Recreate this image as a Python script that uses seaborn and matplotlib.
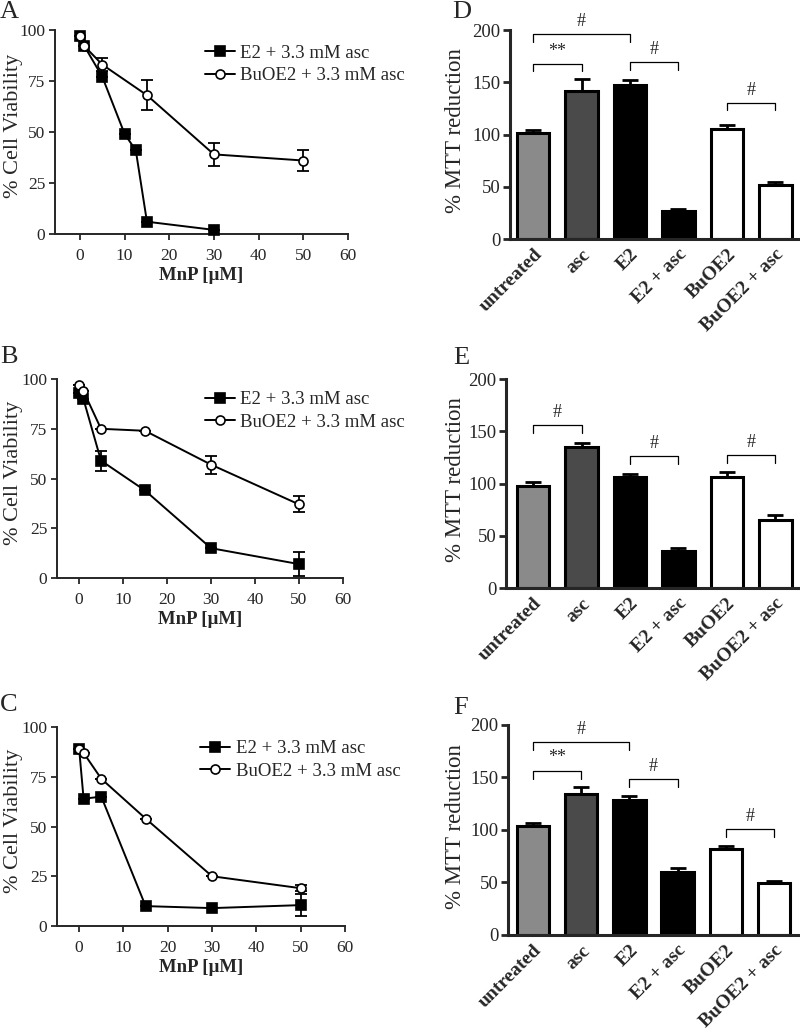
import numpy as np
import pandas as pd
import matplotlib
matplotlib.use('Agg')
import matplotlib.pyplot as plt
import seaborn as sns

sns.set_style('ticks')
plt.rcParams['font.family'] = ['Liberation Serif', 'DejaVu Serif']

# ---------------- Data: cell viability (panels A-C) ----------------
conc_A_e2 = [0, 1, 5, 10, 12.5, 15, 30]
via_A_e2 = [97, 92, 77, 49, 41, 6, 2]
err_A_e2 = [0, 0, 0, 0, 0, 0, 0]
conc_A_bu = [0, 1, 5, 15, 30, 50]
via_A_bu = [97, 92, 83, 68, 39, 36]
err_A_bu = [0, 0, 3, 7.4, 5.7, 5]

conc_B_e2 = [0, 1, 5, 15, 30, 50]
via_B_e2 = [93, 90, 59, 44, 15, 7]
err_B_e2 = [0, 0, 5, 0, 0, 6]
conc_B_bu = [0, 1, 5, 15, 30, 50]
via_B_bu = [97, 94, 75, 74, 57, 37]
err_B_bu = [0, 0, 0, 0, 4.5, 4]

conc_C_e2 = [0, 1, 5, 15, 30, 50]
via_C_e2 = [89, 64, 65, 10, 9, 10.5]
err_C_e2 = [0, 0, 0, 0, 0, 5.5]
conc_C_bu = [0, 1, 5, 15, 30, 50]
via_C_bu = [89, 87, 74, 54, 25, 19]
err_C_bu = [0, 0, 0, 0, 0, 1.5]

label_e2 = 'E2 + 3.3 mM asc'
label_bu = 'BuOE2 + 3.3 mM asc'

# ---------------- Data: MTT reduction (panels D-F) ----------------
groups = ['untreated', 'asc', 'E2', 'E2 + asc', 'BuOE2', 'BuOE2 + asc']
bar_colors = ['#8a8a8a', '#4a4a4a', '#000000', '#000000', '#ffffff', '#ffffff']
mtt_D = [101, 141.5, 147.5, 27, 105, 51.3]
err_D = [3.5, 11.5, 5, 2, 4.5, 3]
mtt_E = [98, 135, 106.5, 35.4, 106, 64.8]
err_E = [3, 4, 3, 3, 5, 5.5]
mtt_F = [104, 134.3, 128.3, 59.7, 82.2, 49.5]
err_F = [3, 7, 4, 4.5, 3, 2]

# significance brackets: (group i, group j, height, label)
sig_D = [(0, 2, 196, '#'), (0, 1, 167.5, '**'), (2, 3, 169, '#'), (4, 5, 130, '#')]
sig_E = [(0, 1, 156, '#'), (2, 3, 126, '#'), (4, 5, 127.5, '#')]
sig_F = [(0, 2, 184, '#'), (0, 1, 156.5, '**'), (2, 3, 148.6, '#'), (4, 5, 100.6, '#')]

W, H = 800, 1032
fig = plt.figure(figsize=(8, 10.32), dpi=100)


def line_panel(rect, xlim, e2, bu, letter, letter_xy, legend_xy):
    ax = fig.add_axes(rect)
    for (x, y, e), mk, face, lab, ms in [
        (e2, 's', 'black', label_e2, 7.5),
        (bu, 'o', 'white', label_bu, 6.5),
    ]:
        ax.errorbar(x, y, yerr=e, fmt='none', ecolor='black', elinewidth=1.3,
                    capsize=4, capthick=1.3, zorder=2, clip_on=False)
        df = pd.DataFrame({'x': x, 'y': y})
        sns.lineplot(data=df, x='x', y='y', ax=ax, color='black', lw=1.4,
                     marker=mk, markersize=ms, markerfacecolor=face,
                     markeredgecolor='black', markeredgewidth=1.2,
                     label=lab, errorbar=None, clip_on=False, zorder=3)
    ax.set_xlim(*xlim)
    ax.set_ylim(0, 100)
    ax.set_xticks([0, 10, 20, 30, 40, 50, 60])
    ax.set_yticks([0, 25, 50, 75, 100])
    ax.set_xlabel('MnP [µM]', fontsize=13.5, fontweight='bold', labelpad=2)
    ax.set_ylabel('% Cell Viability', fontsize=16)
    # right edge of the rotated label ~23 px from the figure's left edge
    ax.yaxis.set_label_coords((23 / W - rect[0]) / rect[2], 0.53)
    ax.tick_params(labelsize=12.5, width=1.3, length=4, direction='out', pad=3)
    ax.tick_params(axis='x', pad=6)
    for s in ['top', 'right']:
        ax.spines[s].set_visible(False)
    for s in ['left', 'bottom']:
        ax.spines[s].set_linewidth(1.4)
    ax.legend(loc='upper left', bbox_to_anchor=legend_xy,
              bbox_transform=fig.transFigure, frameon=False,
              fontsize=13.5, handlelength=1.6, handletextpad=0.3,
              labelspacing=0.3, borderaxespad=0, borderpad=0)
    fig.text(letter_xy[0], letter_xy[1], letter, fontsize=19, ha='left', va='center')
    return ax


def bar_panel(rect, xlim, vals, errs, sigs, letter, letter_xy, drop):
    ax = fig.add_axes(rect)
    df = pd.DataFrame({'group': groups, 'val': vals})
    sns.barplot(data=df, x='group', y='val', hue='group',
                palette=dict(zip(groups, bar_colors)), legend=False,
                edgecolor='black', linewidth=2.2, width=0.67,
                errorbar=None, ax=ax, zorder=2)
    xpos = np.arange(len(groups))
    ax.errorbar(xpos, vals, yerr=[np.zeros(len(errs)), errs], fmt='none',
                ecolor='black', elinewidth=2, capsize=6, capthick=2, zorder=1)
    for i, j, h, lab in sigs:
        ax.plot([i, i, j, j], [h - drop, h, h, h - drop], color='black', lw=0.9,
                clip_on=False)
        ax.text((i + j) / 2, h + 4, lab, ha='center', va='bottom', fontsize=13)
    ax.set_xlim(*xlim)
    ax.set_ylim(0, 200)
    ax.set_yticks([0, 50, 100, 150, 200])
    ax.set_xlabel('')
    ax.set_ylabel('% MTT reduction', fontsize=16.5)
    ax.yaxis.set_label_coords((466 / W - rect[0]) / rect[2], 0.517)
    ax.tick_params(axis='y', labelsize=13.5, width=2, length=5, pad=2)
    ax.tick_params(axis='x', length=0, pad=5)
    for t in ax.get_xticklabels():
        t.set_rotation(45)
        t.set_ha('right')
        t.set_rotation_mode('anchor')
        t.set_fontweight('bold')
        t.set_fontsize(14)
    for s in ['top', 'right']:
        ax.spines[s].set_visible(False)
    for s in ['left', 'bottom']:
        ax.spines[s].set_linewidth(2.2)
    fig.text(letter_xy[0], letter_xy[1], letter, fontsize=19, ha='left', va='center')
    return ax


line_panel([0.06875, 0.7733, 0.366, 0.1977], (-5.6, 60),
           (conc_A_e2, via_A_e2, err_A_e2), (conc_A_bu, via_A_bu, err_A_bu),
           'A', (0.0, 0.988), (0.256, 0.957))
line_panel([0.07125, 0.4399, 0.3575, 0.1928], (-5.0, 60),
           (conc_B_e2, via_B_e2, err_B_e2), (conc_B_bu, via_B_bu, err_B_bu),
           'B', (0.0, 0.654), (0.256, 0.621))
line_panel([0.07125, 0.1027, 0.36, 0.1928], (-5.0, 60),
           (conc_C_e2, via_C_e2, err_C_e2), (conc_C_bu, via_C_bu, err_C_bu),
           'C', (0.0, 0.317), (0.25, 0.283))

bar_panel([0.6375, 0.7684, 0.3625, 0.2025], (-0.48, 5.51), mtt_D, err_D, sig_D,
          'D', (0.565, 0.988), 7)
bar_panel([0.6325, 0.4302, 0.3675, 0.2025], (-0.56, 5.51), mtt_E, err_E, sig_E,
          'E', (0.567, 0.653), 7.5)
bar_panel([0.635, 0.094, 0.365, 0.2035], (-0.52, 5.54), mtt_F, err_F, sig_F,
          'F', (0.567, 0.314), 7.5)

fig.savefig('out.png', dpi=100)
